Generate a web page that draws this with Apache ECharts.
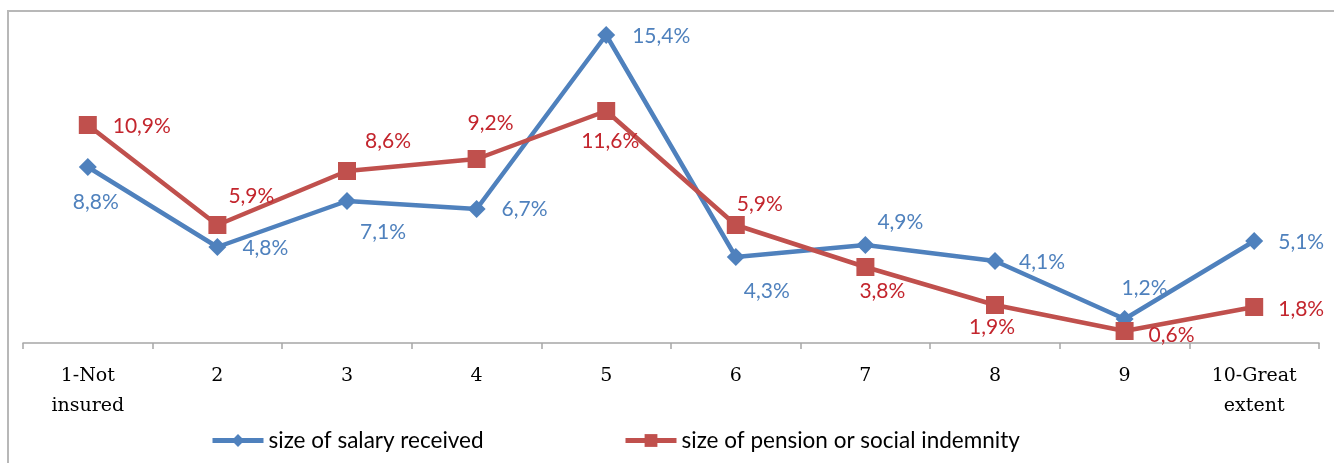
<!DOCTYPE html>
<html>
<head>
<meta charset="utf-8">
<script src="https://cdn.jsdelivr.net/npm/echarts@6/dist/echarts.min.js"></script>
<style>
  html, body { margin: 0; padding: 0; background: #fff; }
  #chart { width: 1334px; height: 463px; }
</style>
</head>
<body>
<div id="chart"></div>
<script>
// categories on the x axis
const categories = ['1-Not\ninsured', '2', '3', '4', '5', '6', '7', '8', '9', '10-Great\nextent']

// series values (percent)
const salary = [8.8, 4.8, 7.1, 6.7, 15.4, 4.3, 4.9, 4.1, 1.2, 5.1]
const pension = [10.9, 5.9, 8.6, 9.2, 11.6, 5.9, 3.8, 1.9, 0.6, 1.8]

const salaryName = 'size of salary received'
const pensionName = 'size of pension or social indemnity'

// label placement relative to each point (Excel-like manual placement)
const salaryLabelOffset = [[8, 35], [48, 1], [36, 31], [48, 0], [55, 1], [31, 34], [35, -23], [47, 1], [20, -31], [47, 1]]
const pensionLabelOffset = [[54, 1], [34, -29], [41, -30], [14, -36], [4, 30], [24, -21], [17, 24], [-3, 22], [47, 4], [47, 2]]

const blue = '#4F81BD'
const red = '#C0504D'
const blueText = '#4F81BD'
const redText = '#C3252D'
const labelFont = 'Lato, "Open Sans", sans-serif'

const fmt = v => v.toFixed(1).replace('.', ',') + '%'

const makeData = (values, offsets) => values.map((v, i) => ({
  value: v,
  label: { offset: offsets[i] }
}))

// legend entry, placed by hand like the Excel original
const legendItem = (name, left) => ({
  left: left,
  top: 429,
  padding: 0,
  itemWidth: 51,
  itemHeight: 16,
  itemGap: 0,
  data: [name],
  lineStyle: { width: 5 },
  textStyle: { color: '#000', fontFamily: labelFont, fontSize: 22.5 }
})

const chart = echarts.init(document.getElementById('chart'))

chart.setOption({
  animation: false,
  backgroundColor: '#fff',
  graphic: [{
    type: 'rect',
    shape: { x: 8, y: 11, width: 1400, height: 500 },
    style: { fill: 'none', stroke: '#b8b8b8', lineWidth: 2 },
    silent: true,
    z: -10
  }],
  grid: { left: 23, right: 15, top: 23, bottom: 120 },
  legend: [legendItem(salaryName, 210), legendItem(pensionName, 623)],
  xAxis: {
    type: 'category',
    data: categories,
    boundaryGap: true,
    axisLine: { lineStyle: { color: '#a6a6a6', width: 1.5 } },
    axisTick: { show: true, length: 6, lineStyle: { color: '#a6a6a6', width: 1.5 } },
    axisLabel: {
      interval: 0,
      margin: 18,
      color: '#000',
      fontFamily: '"DejaVu Serif", serif',
      fontSize: 19,
      lineHeight: 30
    },
    splitLine: { show: false }
  },
  yAxis: {
    type: 'value',
    min: 0,
    max: 16,
    show: false,
    splitLine: { show: false }
  },
  series: [
    {
      name: salaryName,
      type: 'line',
      data: makeData(salary, salaryLabelOffset),
      symbol: 'diamond',
      symbolSize: 18,
      color: blue,
      lineStyle: { width: 4.5, color: blue },
      itemStyle: { color: blue },
      label: {
        show: true,
        position: 'inside',
        align: 'center',
        verticalAlign: 'middle',
        color: blueText,
        fontFamily: labelFont,
        fontSize: 21,
        formatter: p => fmt(p.value)
      }
    },
    {
      name: pensionName,
      type: 'line',
      data: makeData(pension, pensionLabelOffset),
      symbol: 'rect',
      symbolSize: 18,
      color: red,
      lineStyle: { width: 4.5, color: red },
      itemStyle: { color: red },
      label: {
        show: true,
        position: 'inside',
        align: 'center',
        verticalAlign: 'middle',
        color: redText,
        fontFamily: labelFont,
        fontSize: 21,
        formatter: p => fmt(p.value)
      }
    }
  ]
})

window.addEventListener('resize', () => {
  chart?.resize()
})
</script>
</body>
</html>
